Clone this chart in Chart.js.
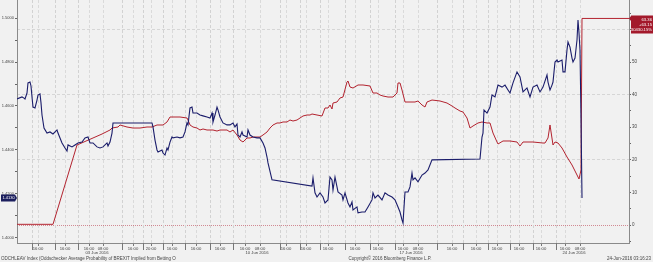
<!DOCTYPE html>
<html lang="en">
<head>
<meta charset="UTF-8">
<title>Brexit odds vs GBP</title>
<script src="https://cdn.jsdelivr.net/npm/chart.js"></script>
<style>
    html, body { margin: 0; padding: 0; background: #f1f1f1; }
    .chart-container { width: 653px; height: 262px; }
</style>
</head>
<body>
<div class="chart-container"><canvas id="brexit-chart" width="653" height="262"></canvas></div>
<script>
// x = approx. trading hours since start of the window (weekends compressed)
const gbpHours = [0,5,7,8,10,11,13,14,15,16,18,20,21,23,24,25,27,30,33,36,40,41,45,48,50,51,55,58,61,65,68,71,73,76,80,83,86,90,91,93,95,96,
    135,136,138,140,141,145,146,148,150,151,153,155,156,160,163,166,168,170,171,173,175,176,180,183,186,190,193,195,196,198,200,201,203,206,210,213,216,218,220,221,223,225,226,230,231,233,236,240,243,246,248,250,251,255,
    295,296,298,300,303,306,308,311,313,315,316,318,320,321,325,326,328,331,333,335,336,340,341,345,348,351,355,356,358,361,365,368,371,375,378,381,383,385,386,388,391,393,395,396,398,401,405,408,411,415,
    463,465,466,467,470,473,475,478,481,485,488,491,493,496,500,503,506,510,513,516,520,523,526,530,531,533,535,536,538,540,541,545,546,548,550,551,553,555,556,558,560,561,562,563,564,565];
const gbpValues = [1.4632,1.4641,1.4636,1.4632,1.4659,1.4705,1.4709,1.4691,1.4641,1.4595,1.4591,1.4627,1.4650,1.4655,1.4614,1.4559,1.4500,1.4477,1.4482,1.4473,1.4491,1.4477,1.4432,1.4409,1.4395,1.4423,1.4414,1.4423,1.4432,1.4436,1.4455,1.4459,1.4432,1.4432,1.4414,1.4409,1.4414,1.4432,1.4418,1.4436,1.4477,1.4523,
    1.4523,1.4505,1.4445,1.4400,1.4391,1.4400,1.4386,1.4377,1.4409,1.4400,1.4436,1.4459,1.4455,1.4459,1.4455,1.4459,1.4482,1.4523,1.4514,1.4591,1.4595,1.4568,1.4568,1.4559,1.4555,1.4550,1.4545,1.4568,1.4527,1.4559,1.4595,1.4582,1.4550,1.4523,1.4514,1.4514,1.4523,1.4505,1.4518,1.4468,1.4459,1.4482,1.4468,1.4459,1.4491,1.4468,1.4459,1.4455,1.4455,1.4432,1.4409,1.4368,1.4341,1.4264,
    1.4236,1.4273,1.4205,1.4186,1.4205,1.4186,1.4159,1.4173,1.4277,1.4264,1.4218,1.4277,1.4232,1.4209,1.4195,1.4173,1.4205,1.4159,1.4141,1.4164,1.4127,1.4141,1.4114,1.4118,1.4118,1.4141,1.4173,1.4205,1.4182,1.4195,1.4173,1.4205,1.4195,1.4186,1.4173,1.4141,1.4118,1.4082,1.4068,1.4209,1.4209,1.4232,1.4295,1.4264,1.4273,1.4255,1.4286,1.4295,1.4309,1.4355,
    1.4359,1.4459,1.4477,1.4582,1.4568,1.4595,1.4650,1.4641,1.4695,1.4686,1.4695,1.4673,1.4659,1.4705,1.4755,1.4732,1.4664,1.4682,1.4641,1.4686,1.4695,1.4664,1.4686,1.4741,1.4709,1.4673,1.4695,1.4709,1.4800,1.4809,1.4800,1.4809,1.4755,1.4755,1.4855,1.4891,1.4868,1.4818,1.4800,1.4818,1.4900,1.4991,1.4932,1.4855,1.4550,1.4182];

const oddsHours = [0,36,60,85,93,95,101,103,110,116,123,130,135,140,146,150,153,163,170,171,173,176,180,183,186,190,196,200,203,210,213,216,220,223,226,230,233,236,243,246,250,253,256,260,263,266,270,273,276,280,283,286,290,293,295,300,305,
    308,311,313,315,316,320,323,326,330,331,333,336,341,346,353,356,360,363,366,371,376,380,381,383,385,388,393,398,401,405,408,410,415,423,430,435,438,443,446,450,453,456,461,465,470,473,476,480,481,486,493,500,503,506,516,526,528,531,533,536,538,541,545,550,555,560,562,564,565,612];
const oddsValues = [0.21,0.21,24.54,27.91,29.14,29.75,30.06,30.68,30.06,29.75,29.75,30.06,30.06,30.68,30.68,31.60,33.13,33.13,32.82,32.21,30.68,30.06,29.75,29.14,29.45,29.14,29.14,28.83,29.14,29.14,28.53,29.14,27.61,26.07,25.46,26.69,26.69,26.99,26.99,27.61,28.53,29.75,30.68,31.29,31.29,31.60,31.60,32.21,31.90,32.21,32.82,33.44,33.74,33.74,34.05,33.74,33.44,
    35.89,35.89,36.81,35.58,37.42,37.73,38.96,39.26,43.87,44.17,42.33,42.02,42.95,42.95,42.64,40.49,40.49,39.88,39.57,39.26,39.26,40.49,43.56,43.56,41.41,37.73,37.73,37.73,38.04,36.81,36.20,37.73,38.34,38.04,37.42,36.50,35.89,34.97,34.66,32.82,29.75,30.37,31.29,31.60,31.29,31.29,28.22,25.46,24.85,25.77,25.77,25.46,24.23,25.46,25.46,25.15,25.15,26.69,30.68,24.54,25.46,25.15,23.62,20.86,18.41,15.34,14.11,16.87,63.36,63.36];

const tickHours = [21,48,72,86,116,134,155,179,203,228,243,269,289,311,338,361,386,401,435,459,480,502,524,548,563];
const tickLabels = ['16:00','16:00','16:00','08:00','16:00','20:00','16:00','16:00','16:00','16:00','08:00','16:00','16:00','16:00','16:00','16:00','16:00','08:00','16:00','16:00','16:00','16:00','16:00','16:00','08:00'];
const dayBreakHours = [15,38,61,105,126,146,168,193,216,263,283,303,328,353,378,420,446,471,493,516,539];
const dateHours = [80,240,394,557];
const dateLabels = ['03 Jun 2016','10 Jun 2016','17 Jun 2016','24 Jun 2016'];

const leftTicks = [1.40,1.41,1.42,1.43,1.44,1.45,1.46,1.47,1.48,1.49,1.50];
const rightTicks = [-5,0,5,10,15,20,25,30,35,40,45,50,55,60,65];

const gbpLast = '1.4130';
const oddsLast = ['63.36', '+63.15', '30430.15%'];

const FONT = 'Liberation Sans, Arial, sans-serif';

const toPoints = (xs, ys) => xs.map((x, i) => ({ x: x, y: ys[i] }));

const noPad = s => { s.paddingTop = 0; s.paddingBottom = 0; s.paddingLeft = 0; s.paddingRight = 0; };

const decorations = {
    id: 'decorations',
    beforeDraw(chart) {
        const ctx = chart.ctx;
        ctx.save();
        ctx.fillStyle = '#f1f1f1';
        ctx.fillRect(0, 0, chart.width, chart.height);
        ctx.restore();
    },
    beforeDatasetsDraw(chart) {
        const { ctx, chartArea, scales } = chart;
        ctx.save();
        ctx.strokeStyle = '#d2d2d2';
        ctx.lineWidth = 1;
        ctx.setLineDash([3, 2]);
        dayBreakHours.forEach(h => {
            const x = Math.round(scales.x.getPixelForValue(h)) + 0.5;
            ctx.beginPath();
            ctx.moveTo(x, chartArea.top);
            ctx.lineTo(x, chartArea.bottom);
            ctx.stroke();
        });
        ctx.setLineDash([]);
        ctx.strokeStyle = '#777';
        dayBreakHours.forEach(h => {
            const x = Math.round(scales.x.getPixelForValue(h)) + 0.5;
            ctx.beginPath();
            ctx.moveTo(x, chartArea.bottom);
            ctx.lineTo(x, chartArea.bottom + 7);
            ctx.stroke();
        });
        ctx.restore();
    },
    afterDraw(chart) {
        const { ctx, chartArea, scales } = chart;
        ctx.save();
        ctx.fillStyle = '#444';
        ctx.font = '4.2px ' + FONT;
        ctx.textAlign = 'center';
        ctx.textBaseline = 'middle';
        dateHours.forEach((h, i) => {
            ctx.fillText(dateLabels[i], scales.x.getPixelForValue(h), chartArea.bottom + 10);
        });

        ctx.font = '4.5px ' + FONT;
        ctx.textAlign = 'left';
        ctx.fillText('ODCHLEAV Index (Oddschecker Average Probability of BREXIT Implied from Betting O', 1, 259);
        ctx.textAlign = 'center';
        ctx.fillText('Copyright\u00a9 2016 Bloomberg Finance L.P.', 390, 259);
        ctx.textAlign = 'right';
        ctx.fillText('24-Jun-2016 03:16:23', 651, 259);

        // last value box, left axis
        const yb = scales.yL.getPixelForValue(gbpValues[gbpValues.length - 1]);
        ctx.fillStyle = '#1c1f5e';
        ctx.beginPath();
        ctx.moveTo(1, yb - 3.5);
        ctx.lineTo(15, yb - 3.5);
        ctx.lineTo(17, yb);
        ctx.lineTo(15, yb + 3.5);
        ctx.lineTo(1, yb + 3.5);
        ctx.closePath();
        ctx.fill();
        ctx.fillStyle = '#fff';
        ctx.font = '4px ' + FONT;
        ctx.textAlign = 'center';
        ctx.fillText(gbpLast, 8.5, yb + 0.3);

        // last value box, right axis
        const yr = scales.yR.getPixelForValue(oddsValues[oddsValues.length - 1]);
        const bx = chartArea.right + 2;
        ctx.fillStyle = '#a3192b';
        ctx.beginPath();
        ctx.moveTo(chartArea.right, yr);
        ctx.lineTo(bx, yr - 2.5);
        ctx.lineTo(bx, yr - 3);
        ctx.lineTo(653, yr - 3);
        ctx.lineTo(653, yr + 15);
        ctx.lineTo(bx, yr + 15);
        ctx.lineTo(bx, yr + 2.5);
        ctx.closePath();
        ctx.fill();
        ctx.fillStyle = '#fff';
        ctx.textAlign = 'right';
        ctx.font = '4.2px ' + FONT;
        oddsLast.forEach((t, i) => ctx.fillText(t, 652, yr + 1 + i * 5));
        ctx.restore();
    }
};

new Chart(document.getElementById('brexit-chart').getContext('2d'), {
    type: 'line',
    data: {
        datasets: [
            {
                label: 'GBP',
                data: toPoints(gbpHours, gbpValues),
                yAxisID: 'yL',
                borderColor: '#1b1d6b',
                borderWidth: 1.1,
                pointRadius: 0,
                tension: 0
            },
            {
                label: 'Oddschecker Brexit probability',
                data: toPoints(oddsHours, oddsValues),
                yAxisID: 'yR',
                borderColor: '#b3232f',
                borderWidth: 1,
                pointRadius: 0,
                tension: 0
            }
        ]
    },
    options: {
        responsive: false,
        animation: false,
        layout: { padding: 0 },
        plugins: { legend: { display: false }, tooltip: { enabled: false } },
        scales: {
            x: {
                type: 'linear',
                min: 0,
                max: 612,
                afterBuildTicks: s => { s.ticks = tickHours.map(v => ({ value: v })); },
                afterFit: s => { s.height = 19; noPad(s); },
                ticks: {
                    autoSkip: false,
                    maxRotation: 0,
                    padding: 0,
                    color: '#444',
                    font: { size: 4.2, family: FONT },
                    callback: (v, i) => tickLabels[i]
                },
                grid: { color: '#dadada', tickLength: 3, tickColor: '#777' },
                border: { color: '#8a8a8a', dash: [3, 2] }
            },
            yL: {
                position: 'left',
                min: 1.3977,
                max: 1.5082,
                afterBuildTicks: s => { s.ticks = leftTicks.map(v => ({ value: v })); },
                afterFit: s => { s.width = 17; noPad(s); },
                ticks: {
                    padding: 1,
                    color: '#444',
                    font: { size: 4, family: FONT },
                    callback: v => (Math.round(v * 100) % 2 === 0 ? v.toFixed(4) : '')
                },
                grid: { drawOnChartArea: false, tickLength: 2, tickColor: '#666' },
                border: { color: '#8a8a8a' }
            },
            yR: {
                position: 'right',
                min: -5.52,
                max: 69.02,
                afterBuildTicks: s => { s.ticks = rightTicks.map(v => ({ value: v })); },
                afterFit: s => { s.width = 24; noPad(s); },
                ticks: {
                    padding: 1,
                    color: '#444',
                    font: { size: 4.5, family: FONT },
                    callback: v => (v >= 0 && v % 10 === 0 ? String(v) : '')
                },
                grid: {
                    tickLength: 2,
                    tickColor: '#666',
                    color: c => {
                        const v = c.tick ? c.tick.value : null;
                        if (v === 0) return 'rgba(190,70,85,0.6)';
                        if (v > 0 && v % 20 === 0) return '#d6d6d6';
                        return 'rgba(0,0,0,0)';
                    }
                },
                border: {
                    color: '#8a8a8a',
                    dash: c => (c.tick && c.tick.value === 0 ? [1, 1] : [3, 2])
                }
            }
        }
    },
    plugins: [decorations]
});
</script>
</body>
</html>
